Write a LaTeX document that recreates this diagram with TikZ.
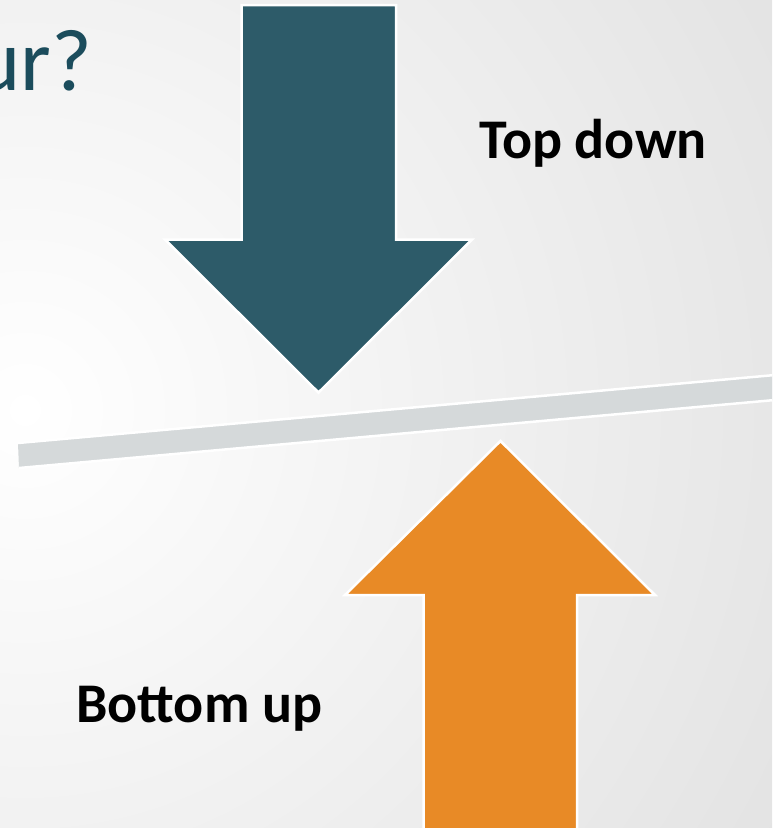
\documentclass[tikz,border=0pt]{standalone}
\usepackage{fontspec}
\setmainfont{Carlito}
\usepackage{tikz}
\definecolor{slideTeal}{HTML}{2D5B69}
\definecolor{titleTeal}{HTML}{1B4C5C}
\definecolor{slideOrange}{HTML}{E88A26}
\definecolor{barGray}{HTML}{D5D9DA}
\definecolor{bgGray}{HTML}{CDCDCD}

\begin{document}
\begin{tikzpicture}[x=1pt, y=-1pt,
  downarr/.style={fill=slideTeal, draw=white, line width=2.5pt, line join=miter},
  uparr/.style={fill=slideOrange, draw=white, line width=2.5pt, line join=miter},
  edge/.style={draw=white, line width=2.5pt},
  label/.style={inner sep=0pt, font=\fontsize{56}{62}\selectfont\bfseries, text=black}]

\useasboundingbox (0,0) rectangle (772,828);

% background
\begin{scope}
  \clip (0,0) rectangle (772,828);
  \shade[inner color=white, outer color=bgGray] (25,410) circle (1550pt);

  % seesaw bar
  \coordinate (tl) at (18,443);
  \coordinate (bl) at (19,468);
  \coordinate (tr) at (775,375);
  \coordinate (br) at (775,400);
  \fill[barGray] (tl) -- (tr) -- (br) -- (bl) -- cycle;
  \draw[edge] (tl) -- (tr);
  \draw[edge] (bl) -- (br);

  % arrows
  \draw[downarr] (241.5,5) -- (396,5) -- (396,239.5) -- (472,239.5)
    -- (318.5,392.5) -- (165,239.5) -- (241.5,239.5) -- cycle;
  \draw[uparr] (423.5,835) -- (577,835) -- (577,595) -- (655,595)
    -- (500.5,441) -- (345,595) -- (423.5,595) -- cycle;

  % title remnant
  \node[inner sep=0pt, anchor=base east, text=titleTeal,
    font=\fontsize{88}{100}\selectfont] (title) at (92,90) {ur?};
\end{scope}

\node[label, anchor=base west] (top) at (479,158) {Top down};
\node[label, anchor=base west] (bot) at (76,722) {Bottom up};

\end{tikzpicture}
\end{document}
